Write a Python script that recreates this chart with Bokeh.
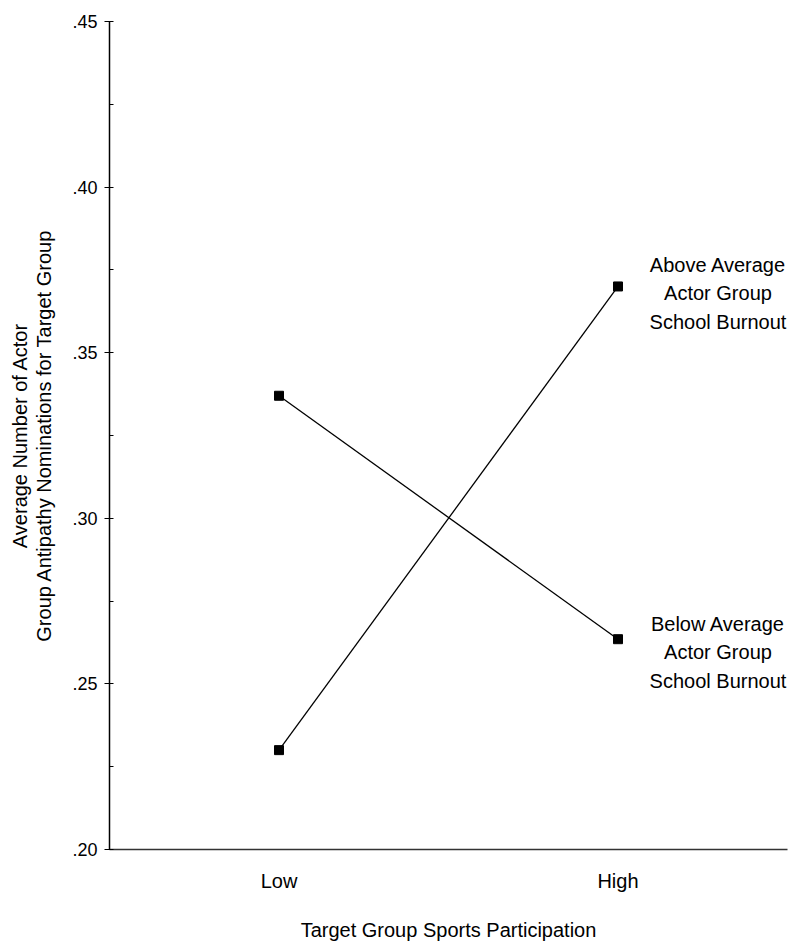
from bokeh.plotting import figure
from bokeh.models import FactorRange, Range1d, FixedTicker, CustomJSTickFormatter, ColumnDataSource
from bokeh.core.properties import value
from bokeh.embed import file_html
from bokeh.resources import INLINE

categories = ["Low", "High"]
above_avg = [0.230, 0.370]
below_avg = [0.337, 0.2635]
above_label = "Above Average\nActor Group\nSchool Burnout"
below_label = "Below Average\nActor Group\nSchool Burnout"
y_major = [0.20, 0.25, 0.30, 0.35, 0.40, 0.45]
y_minor = [0.225, 0.275, 0.325, 0.375, 0.425]
x_title = "Target Group Sports Participation"
y_title = "Average Number of Actor\nGroup Antipathy Nominations for Target Group"

FONT = "Liberation Sans"

p = figure(width=790, height=943, x_range=FactorRange(factors=categories, range_padding=0),
           y_range=Range1d(0.20, 0.45), output_backend="svg", toolbar_location=None,
           min_border_left=109, min_border_right=3, min_border_top=21, min_border_bottom=94)
p.outline_line_color = None
p.grid.visible = False

src_a = ColumnDataSource(dict(x=categories, y=above_avg))
src_b = ColumnDataSource(dict(x=categories, y=below_avg))
for src in (src_a, src_b):
    p.line("x", "y", source=src, line_color="black", line_width=1.3)
    p.scatter("x", "y", source=src, marker="square", size=9, fill_color="black", line_color="black")

p.text(x=[categories[1]], y=[above_avg[1]], text=[above_label], x_offset=100, y_offset=7,
       text_align="center", text_baseline="middle", text_font=value(FONT),
       text_font_size="20px", text_line_height=1.3, text_color="black")
p.text(x=[categories[1]], y=[below_avg[1]], text=[below_label], x_offset=100, y_offset=13,
       text_align="center", text_baseline="middle", text_font=value(FONT),
       text_font_size="20px", text_line_height=1.3, text_color="black")

ya = p.yaxis[0]
ya.ticker = FixedTicker(ticks=y_major, minor_ticks=y_minor)
ya.formatter = CustomJSTickFormatter(code="return tick.toFixed(2).replace(/^0/, '');")
ya.major_tick_out = 5
ya.major_tick_in = 4
ya.minor_tick_out = 0
ya.minor_tick_in = 4
ya.major_tick_line_color = "black"
ya.minor_tick_line_color = "black"
ya.axis_line_color = "black"
ya.axis_line_width = 1.5
ya.major_label_standoff = 7
ya.major_label_text_font = FONT
ya.major_label_text_font_size = "18px"
ya.major_label_text_color = "black"
ya.axis_label = y_title
ya.axis_label_text_font = FONT
ya.axis_label_text_font_size = "20px"
ya.axis_label_text_font_style = "normal"
ya.axis_label_text_color = "black"
ya.axis_label_text_line_height = 1.1
ya.axis_label_standoff = 14

xa = p.xaxis[0]
xa.major_tick_out = 0
xa.major_tick_in = 0
xa.minor_tick_out = 0
xa.axis_line_color = "#333333"
xa.axis_line_width = 1.5
xa.major_label_standoff = 20
xa.major_label_text_font = FONT
xa.major_label_text_font_size = "20px"
xa.major_label_text_color = "black"
xa.axis_label = x_title
xa.axis_label_text_font = FONT
xa.axis_label_text_font_size = "20px"
xa.axis_label_text_font_style = "normal"
xa.axis_label_text_color = "black"
xa.axis_label_standoff = 24

open("out.html", "w").write(file_html(p, INLINE))
